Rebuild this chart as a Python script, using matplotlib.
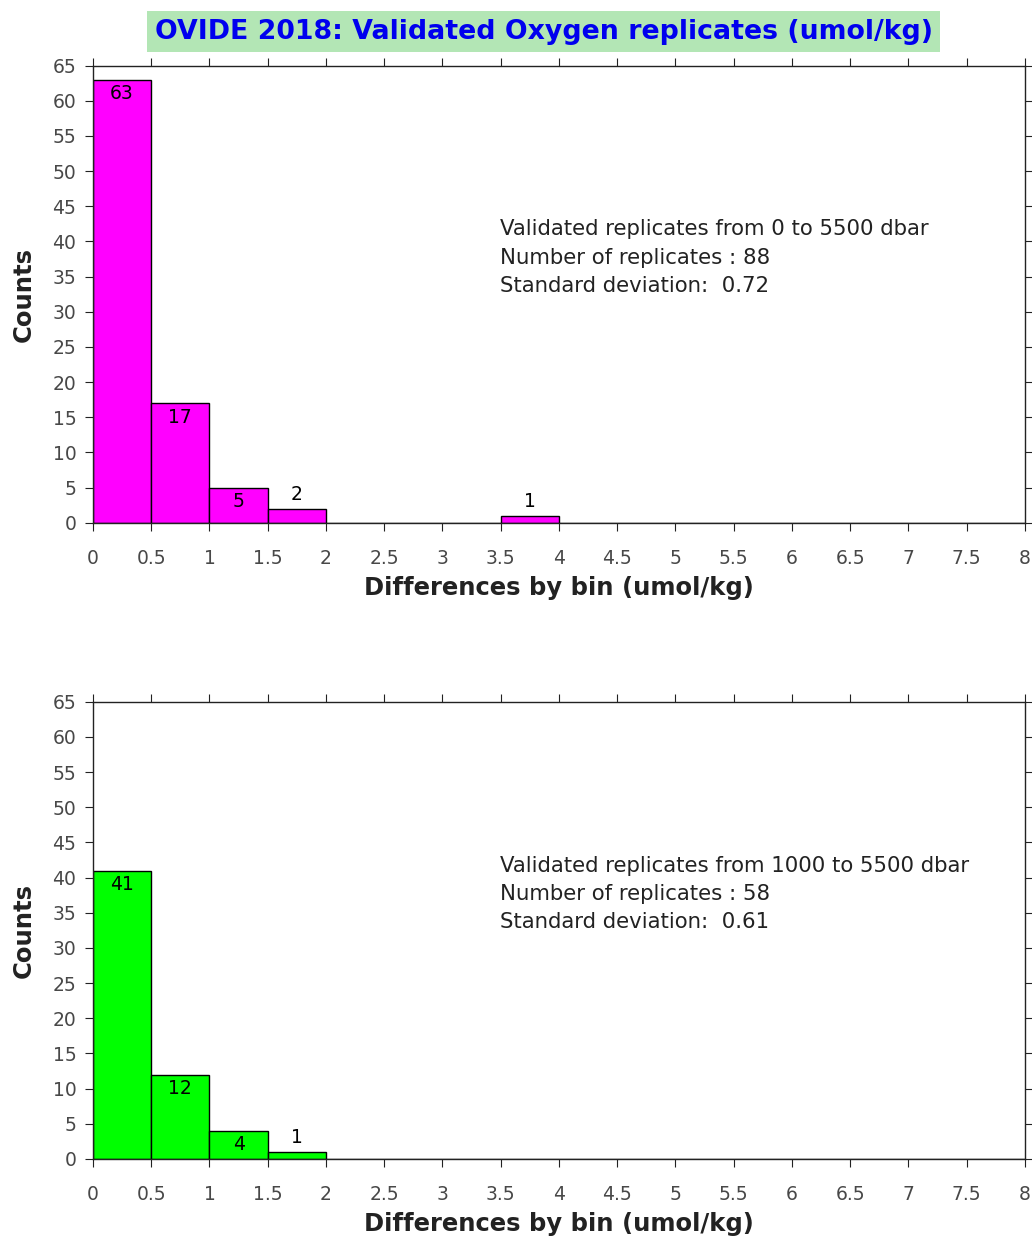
import numpy as np
import matplotlib.pyplot as plt

bin_edges = [0, 0.5, 1, 1.5, 2, 2.5, 3, 3.5, 4, 4.5, 5, 5.5, 6, 6.5, 7, 7.5, 8]
counts_all = [63, 17, 5, 2, 0, 0, 0, 1, 0, 0, 0, 0, 0, 0, 0, 0]
counts_deep = [41, 12, 4, 1, 0, 0, 0, 0, 0, 0, 0, 0, 0, 0, 0, 0]
x_ticks = [0, 0.5, 1, 1.5, 2, 2.5, 3, 3.5, 4, 4.5, 5, 5.5, 6, 6.5, 7, 7.5, 8]
x_ticklabels = ['0', '0.5', '1', '1.5', '2', '2.5', '3', '3.5', '4', '4.5',
                '5', '5.5', '6', '6.5', '7', '7.5', '8']
info_all = ['Validated replicates from 0 to 5500 dbar',
            'Number of replicates : 88',
            'Standard deviation:  0.72']
info_deep = ['Validated replicates from 1000 to 5500 dbar',
             'Number of replicates : 58',
             'Standard deviation:  0.61']
title = 'OVIDE 2018: Validated Oxygen replicates (umol/kg)'

plt.rcParams['font.family'] = ['DejaVu Sans']
fig = plt.figure(figsize=(10.32, 12.36), dpi=100)
ax1 = fig.add_axes([0.0901, 0.577, 0.903, 0.370])
ax2 = fig.add_axes([0.0901, 0.0623, 0.903, 0.370])


def draw_panel(ax, counts, color, info):
    left = np.array(bin_edges[:-1])
    width = np.diff(bin_edges)
    ax.bar(left, counts, width=width, align='edge', color=color,
           edgecolor='black', linewidth=1)
    for l, w, c in zip(left, width, counts):
        if c == 0:
            continue
        # label inside the bar when tall enough, above it otherwise
        y = c - 2 if c > 2 else c + 2
        ax.text(l + w / 2, y, str(c), ha='center', va='center',
                fontsize=13.5, color='black')
    ax.set_xlim(0, 8)
    ax.set_ylim(0, 65)
    ax.set_xticks(x_ticks)
    ax.set_xticklabels(x_ticklabels)
    ax.set_yticks(range(0, 66, 5))
    ax.tick_params(direction='out', top=True, right=True, length=6,
                   labelsize=13.5, labelcolor='#484848', color='#222222')
    ax.tick_params(axis='x', pad=12.5)
    ax.tick_params(axis='y', pad=6)
    for s in ax.spines.values():
        s.set_linewidth(1)
        s.set_color('#222222')
    ax.set_xlabel('Differences by bin (umol/kg)', fontsize=17.5,
                  fontweight='bold', color='#222222', labelpad=6)
    ax.set_ylabel('Counts', fontsize=17.5, fontweight='bold',
                  color='#222222', labelpad=12)
    for i, line in enumerate(info):
        ax.text(3.49, 41.7 - i * 4.0, line, ha='left', va='center',
                fontsize=15.3, color='#222222')


draw_panel(ax1, counts_all, '#ff00ff', info_all)
draw_panel(ax2, counts_deep, '#00ff00', info_deep)

fig.text(0.527, 0.9745, title, ha='center', va='center', fontsize=19.3,
         fontweight='bold', color='#0000ee',
         bbox=dict(facecolor='#b3e6b5', edgecolor='none', pad=5.5))

fig.savefig('out.png', dpi=100)
